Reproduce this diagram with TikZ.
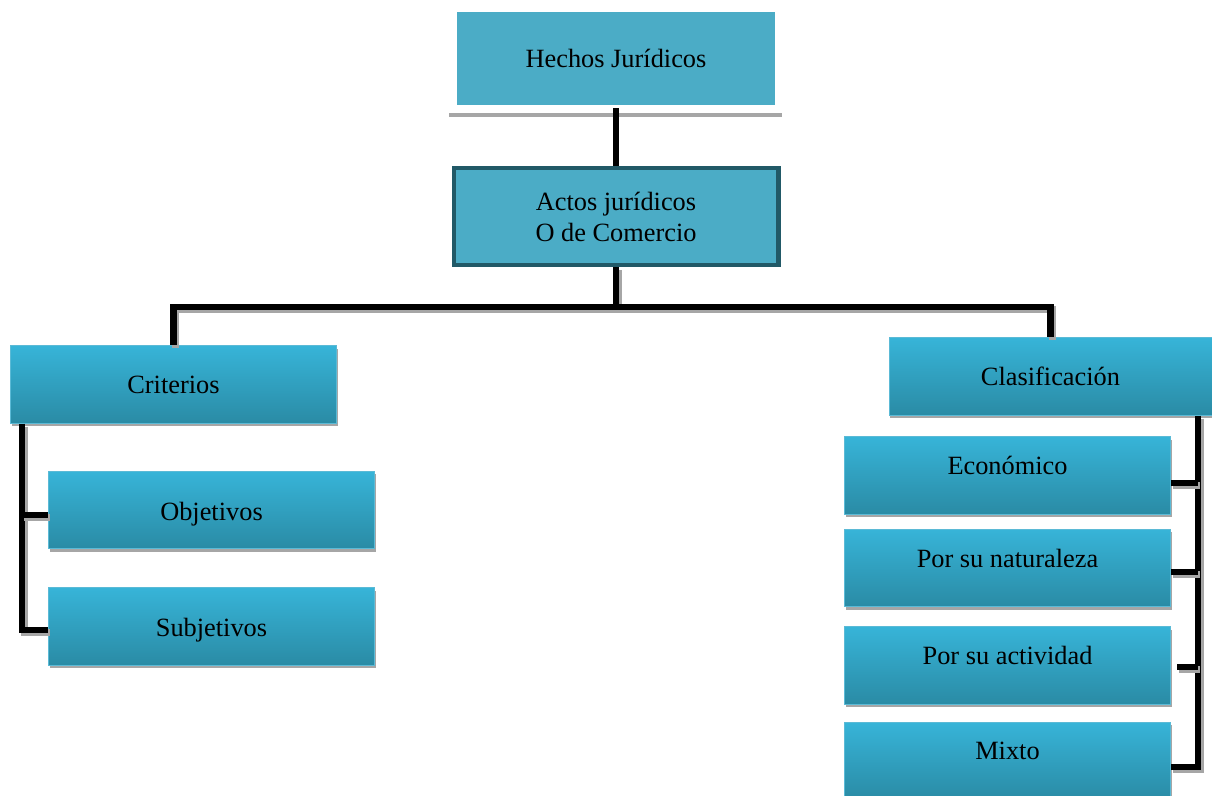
\documentclass[tikz,border=0pt]{standalone}
\usepackage{fontspec}
\setmainfont{Liberation Serif}
\usepackage{xcolor}
\usetikzlibrary{shadows}
\definecolor{flatblue}{HTML}{4BACC6}
\definecolor{framedark}{HTML}{215967}
\definecolor{shadetop}{HTML}{37B4D8}
\definecolor{shadebot}{HTML}{2A8BA5}
\definecolor{shadeedge}{HTML}{5BBAD6}
\definecolor{rulegray}{HTML}{A6A6A6}

\begin{document}
\begin{tikzpicture}[x=0.02cm,y=-0.02cm,
  every node/.style={font=\fontsize{15}{17.6}\selectfont},
  flatbox/.style={fill=flatblue,minimum width=6.36cm,minimum height=1.86cm,align=center},
  mainbox/.style={fill=flatblue,draw=framedark,line width=2.3pt,minimum width=6.5cm,minimum height=1.94cm,align=center},
  shadebox/.style={top color=shadetop,bottom color=shadebot,draw=shadeedge,line width=0.5pt,
    minimum width=6.52cm,minimum height=1.55cm,
    drop shadow={shadow xshift=0.8pt,shadow yshift=-1.8pt,fill=rulegray,opacity=1}},
  lowbox/.style={shadebox,text height=0.52cm,text depth=0.12cm},
  highbox/.style={shadebox,text depth=0.4cm},
  conn/.style={line width=3.9pt,black,
    preaction={draw=rulegray,line width=3.9pt,transform canvas={shift={(1.2pt,-1.6pt)}}}}]
% Page frame
\useasboundingbox (0,0) rectangle (1212,795);

% Top boxes
\node[flatbox] (hechos) at (616,58.5) {Hechos Jurídicos};
\draw[rulegray,line width=2pt] (449,115) -- (782,115);
\node[mainbox] (actos) at (616,216.5) {Actos jurídicos\\O de Comercio};
\draw[line width=3.9pt] (actos.north) -- ([yshift=-0.06cm]actos.north |- hechos.south);

% Left branch
\node[shadebox] (criterios) at (173.5,384.5) {Criterios};
\node[lowbox] (objetivos) at (211.5,510) {Objetivos};
\node[lowbox] (subjetivos) at (211.5,626.5) {Subjetivos};

% Right branch
\node[shadebox,minimum width=6.46cm] (clasif) at (1050.5,376.5) {Clasificación};
\node[highbox] (economico) at (1007.5,475.5) {Económico};
\node[highbox] (naturaleza) at (1007.5,568) {Por su naturaleza};
\node[highbox] (actividad) at (1007.5,665.5) {Por su actividad};
\node[highbox] (mixto) at (1007.5,761) {Mixto};

% Tree under Actos
\draw[conn] (actos.south) -- ++(0,40) coordinate (bus);
\draw[conn] (bus) -| (criterios.north);
\draw[conn] (bus) -| (clasif.north);

% Left spine
\coordinate (lspine) at (22,0);
\draw[conn] (criterios.south -| lspine) |- ([yshift=-0.07cm]subjetivos.west);
\draw[conn] ([yshift=-0.1cm]objetivos.west -| lspine) -- ([yshift=-0.1cm]objetivos.west);

% Right spine
\coordinate (rspine) at (1198,0);
\draw[conn] (clasif.south -| rspine) |- ([yshift=-0.12cm]mixto.east);
\draw[conn] ([yshift=-0.15cm]economico.east -| rspine) -- ([yshift=-0.15cm]economico.east);
\draw[conn] ([yshift=-0.08cm]naturaleza.east -| rspine) -- ([yshift=-0.08cm]naturaleza.east);
\draw[conn] ([yshift=-0.03cm]actividad.east -| rspine) -- ([xshift=0.12cm,yshift=-0.03cm]actividad.east);
\end{tikzpicture}
\end{document}
